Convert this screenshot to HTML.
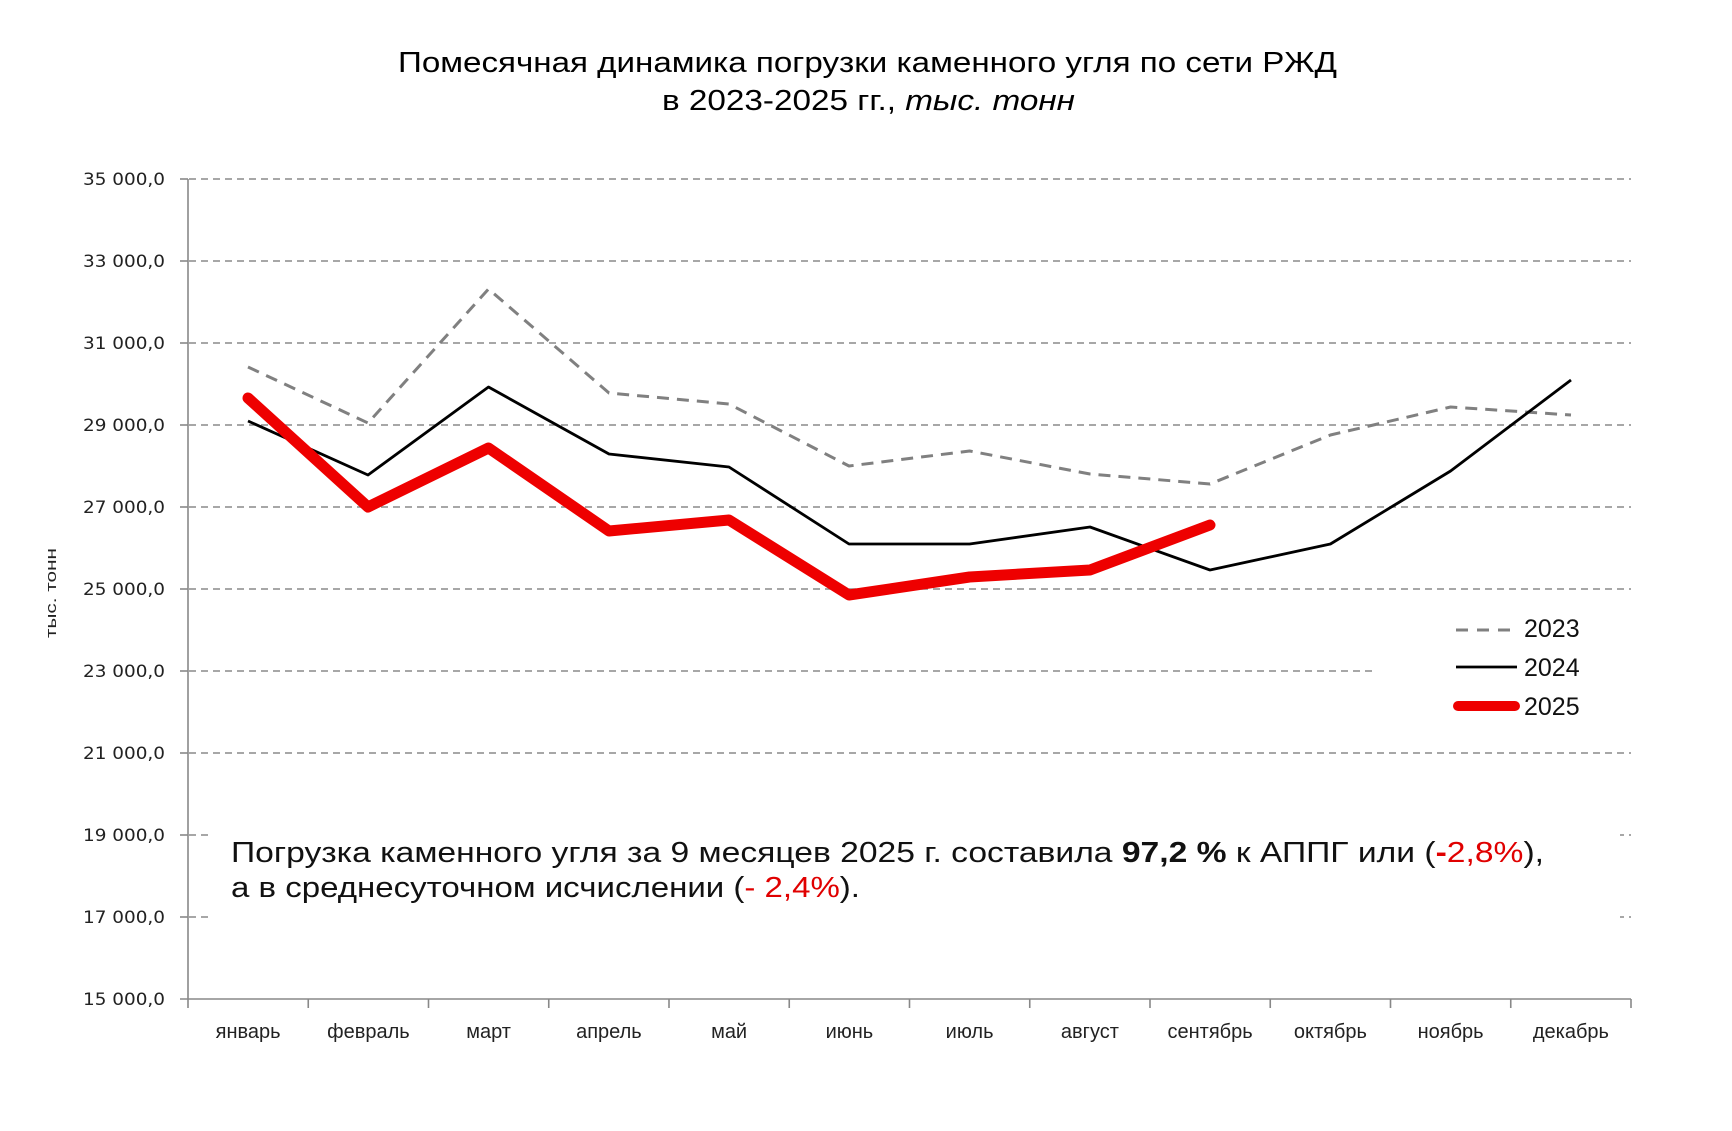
<!DOCTYPE html>
<html>
<head>
<meta charset="utf-8">
<style>
html,body{margin:0;padding:0;background:#fff;}
svg{display:block;}
</style>
</head>
<body>
<svg width="1732" height="1131" viewBox="0 0 1732 1131" xmlns="http://www.w3.org/2000/svg" font-family="'Liberation Sans', 'DejaVu Sans', sans-serif">
<rect width="1732" height="1131" fill="#fff"/>

<!-- Title -->
<text x="398" y="72" font-size="29" fill="#000" textLength="939" lengthAdjust="spacingAndGlyphs">Помесячная динамика  погрузки каменного угля по сети РЖД</text>
<text x="662" y="110" font-size="29" fill="#000" textLength="413" lengthAdjust="spacingAndGlyphs">в 2023-2025 гг., <tspan font-style="italic">тыс. тонн</tspan></text>

<!-- Gridlines -->
<g stroke="#8a8a8a" stroke-width="1.6" stroke-dasharray="7,5" fill="none">
<line x1="189" y1="179" x2="1631" y2="179"/>
<line x1="189" y1="261" x2="1631" y2="261"/>
<line x1="189" y1="343" x2="1631" y2="343"/>
<line x1="189" y1="425" x2="1631" y2="425"/>
<line x1="189" y1="507" x2="1631" y2="507"/>
<line x1="189" y1="589" x2="1631" y2="589"/>
<line x1="189" y1="671" x2="1631" y2="671"/>
<line x1="189" y1="753" x2="1631" y2="753"/>
<line x1="189" y1="835" x2="1631" y2="835"/>
<line x1="189" y1="917" x2="1631" y2="917"/>
</g>

<!-- Axes -->
<g stroke="#888" stroke-width="1.6" fill="none">
<line x1="188" y1="179" x2="188" y2="999"/>
<line x1="180" y1="999" x2="1631" y2="999"/>
<line x1="180" y1="179" x2="188" y2="179"/>
<line x1="180" y1="261" x2="188" y2="261"/>
<line x1="180" y1="343" x2="188" y2="343"/>
<line x1="180" y1="425" x2="188" y2="425"/>
<line x1="180" y1="507" x2="188" y2="507"/>
<line x1="180" y1="589" x2="188" y2="589"/>
<line x1="180" y1="671" x2="188" y2="671"/>
<line x1="180" y1="753" x2="188" y2="753"/>
<line x1="180" y1="835" x2="188" y2="835"/>
<line x1="180" y1="917" x2="188" y2="917"/>
<line x1="188" y1="999" x2="188" y2="1008"/>
<line x1="308.25" y1="999" x2="308.25" y2="1008"/>
<line x1="428.5" y1="999" x2="428.5" y2="1008"/>
<line x1="548.75" y1="999" x2="548.75" y2="1008"/>
<line x1="669" y1="999" x2="669" y2="1008"/>
<line x1="789.25" y1="999" x2="789.25" y2="1008"/>
<line x1="909.5" y1="999" x2="909.5" y2="1008"/>
<line x1="1029.75" y1="999" x2="1029.75" y2="1008"/>
<line x1="1150" y1="999" x2="1150" y2="1008"/>
<line x1="1270.25" y1="999" x2="1270.25" y2="1008"/>
<line x1="1390.5" y1="999" x2="1390.5" y2="1008"/>
<line x1="1510.75" y1="999" x2="1510.75" y2="1008"/>
<line x1="1631" y1="999" x2="1631" y2="1008"/>
</g>

<!-- Y labels -->
<g font-size="17" fill="#222" text-anchor="end" font-family="'DejaVu Sans', 'Liberation Sans', sans-serif">
<text x="165" y="185" textLength="82" lengthAdjust="spacingAndGlyphs">35 000,0</text>
<text x="165" y="267" textLength="82" lengthAdjust="spacingAndGlyphs">33 000,0</text>
<text x="165" y="349" textLength="82" lengthAdjust="spacingAndGlyphs">31 000,0</text>
<text x="165" y="431" textLength="82" lengthAdjust="spacingAndGlyphs">29 000,0</text>
<text x="165" y="513" textLength="82" lengthAdjust="spacingAndGlyphs">27 000,0</text>
<text x="165" y="595" textLength="82" lengthAdjust="spacingAndGlyphs">25 000,0</text>
<text x="165" y="677" textLength="82" lengthAdjust="spacingAndGlyphs">23 000,0</text>
<text x="165" y="759" textLength="82" lengthAdjust="spacingAndGlyphs">21 000,0</text>
<text x="165" y="841" textLength="82" lengthAdjust="spacingAndGlyphs">19 000,0</text>
<text x="165" y="923" textLength="82" lengthAdjust="spacingAndGlyphs">17 000,0</text>
<text x="165" y="1005" textLength="82" lengthAdjust="spacingAndGlyphs">15 000,0</text>
</g>

<!-- Y axis title -->
<text transform="translate(56,593) rotate(-90)" font-size="15" fill="#222" text-anchor="middle" textLength="90" lengthAdjust="spacingAndGlyphs">тыс. тонн</text>

<!-- X labels -->
<g font-size="20" fill="#222" text-anchor="middle">
<text x="248.1" y="1038">январь</text>
<text x="368.4" y="1038">февраль</text>
<text x="488.6" y="1038">март</text>
<text x="608.9" y="1038">апрель</text>
<text x="729.1" y="1038">май</text>
<text x="849.4" y="1038">июнь</text>
<text x="969.6" y="1038">июль</text>
<text x="1089.9" y="1038">август</text>
<text x="1210.1" y="1038">сентябрь</text>
<text x="1330.4" y="1038">октябрь</text>
<text x="1450.6" y="1038">ноябрь</text>
<text x="1570.9" y="1038">декабрь</text>
</g>

<!-- Series 2023 -->
<polyline fill="none" stroke="#808080" stroke-width="3" stroke-dasharray="12,8" stroke-linejoin="round"
 points="248,367 368,423 488.5,289 609,393 729,404 849,466 969.6,451 1090,474 1210,484 1330.4,435 1450.6,407 1571,415"/>
<!-- Series 2024 -->
<polyline fill="none" stroke="#000" stroke-width="2.8" stroke-linejoin="round"
 points="248,421 368,475 488.5,387 609,454 729,467 849,544 969.6,544 1090,527 1210,570 1330.4,544 1450.6,471 1571,380"/>
<!-- Series 2025 -->
<polyline fill="none" stroke="#ee0000" stroke-width="11" stroke-linejoin="round" stroke-linecap="round"
 points="248,398 368,507 488.5,448 609,531 729,520 849,595 969.6,577 1090,570 1210,525"/>

<!-- Legend -->
<rect x="1373" y="598" width="272" height="148" fill="#fff"/>
<line x1="1456" y1="630" x2="1517" y2="630" stroke="#808080" stroke-width="3" stroke-dasharray="12,9"/>
<line x1="1456" y1="667" x2="1517" y2="667" stroke="#000" stroke-width="2.8"/>
<line x1="1458" y1="706" x2="1515" y2="706" stroke="#ee0000" stroke-width="10" stroke-linecap="round"/>
<g font-size="25" fill="#111">
<text x="1524" y="637">2023</text>
<text x="1524" y="676">2024</text>
<text x="1524" y="715">2025</text>
</g>

<!-- Annotation -->
<rect x="208" y="772" width="1412" height="206" fill="#fff"/>
<text x="231" y="862" font-size="29" fill="#111" textLength="1313" lengthAdjust="spacingAndGlyphs">Погрузка каменного угля за 9 месяцев  2025 г. составила <tspan font-weight="bold">97,2 %</tspan> к АППГ или  (<tspan fill="#e00000" font-weight="bold">-</tspan><tspan fill="#e00000">2,8%</tspan>),</text>
<text x="231" y="897" font-size="29" fill="#111" textLength="629" lengthAdjust="spacingAndGlyphs">а в среднесуточном исчислении (<tspan fill="#e00000">- 2,4%</tspan>).</text>
</svg>
</body>
</html>
